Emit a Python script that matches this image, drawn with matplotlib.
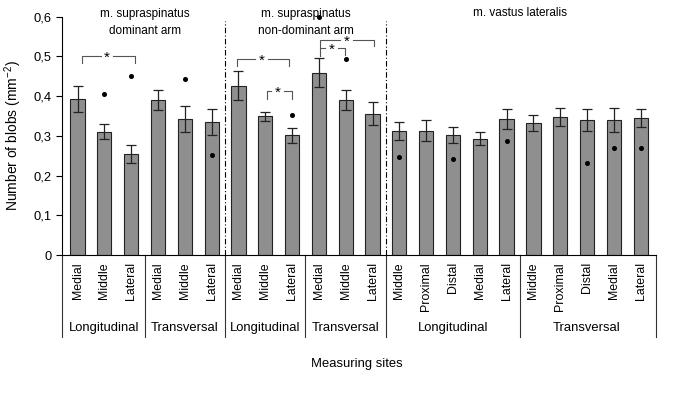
import numpy as np
import matplotlib
matplotlib.use("Agg")
import matplotlib.pyplot as plt
from matplotlib.transforms import blended_transform_factory

plt.rcParams['font.family'] = ['Liberation Sans', 'DejaVu Sans']
plt.rcParams['mathtext.fontset'] = 'custom'
plt.rcParams['mathtext.rm'] = 'Liberation Sans'

# bar data, left to right
site_labels = ['Medial', 'Middle', 'Lateral'] * 4 + ['Middle', 'Proximal', 'Distal', 'Medial', 'Lateral'] * 2
means = [0.393, 0.311, 0.255, 0.391, 0.343, 0.335,
         0.426, 0.349, 0.301, 0.459, 0.391, 0.356,
         0.313, 0.313, 0.302, 0.293, 0.342,
         0.333, 0.348, 0.340, 0.340, 0.345]
errors = [0.032, 0.018, 0.022, 0.025, 0.033, 0.033,
          0.037, 0.011, 0.018, 0.036, 0.025, 0.029,
          0.023, 0.027, 0.020, 0.017, 0.025,
          0.020, 0.023, 0.027, 0.031, 0.023]
dots = [np.nan, 0.405, 0.451, np.nan, 0.443, 0.251,
        np.nan, np.nan, 0.352, 0.598, 0.493, np.nan,
        0.247, np.nan, 0.241, np.nan, 0.286,
        np.nan, np.nan, 0.231, 0.269, 0.270]

# direction groups (first bar, last bar)
groups = ['Longitudinal', 'Transversal', 'Longitudinal', 'Transversal', 'Longitudinal', 'Transversal']
group_spans = [(0, 2), (3, 5), (6, 8), (9, 11), (12, 16), (17, 21)]

muscles = ['m. supraspinatus\ndominant arm', 'm. supraspinatus\nnon-dominant arm', 'm. vastus lateralis']
muscle_spans = [(0, 5), (6, 11), (12, 21)]

# significance brackets: (x left, x right, y, left drop, right drop, star x)
brackets = [(0.15, 2.15, 0.500, 0.017, 0.017, 1.1),
            (5.94, 7.89, 0.494, 0.017, 0.017, 6.85),
            (7.06, 7.99, 0.412, 0.019, 0.019, 7.47),
            (9.05, 9.98, 0.520, 0.019, 0.016, 9.47),
            (9.05, 11.07, 0.541, 0.021, 0.016, 10.02)]

fig = plt.figure(figsize=(6.85, 4.05), dpi=100)
ax = fig.add_axes([0.0905, 0.370, 0.8675, 0.589])

x = np.arange(len(means))
ax.bar(x, means, width=0.53, color='#8f8f8f', edgecolor='#222222', linewidth=0.8, zorder=2)
ax.errorbar(x, means, yerr=errors, fmt='none', ecolor='#222222', elinewidth=0.9,
            capsize=3.3, capthick=0.9, zorder=3)
ax.plot(x, dots, 'o', color='black', markersize=2.6, zorder=4, clip_on=False)

ax.set_xlim(-0.58, 21.58)
ax.set_ylim(0, 0.6)
ax.set_yticks(np.arange(0, 0.61, 0.1))
ax.set_yticklabels(['0', '0,1', '0,2', '0,3', '0,4', '0,5', '0,6'])
ax.set_xticks(x)
ax.set_xticklabels(site_labels, rotation=90, va='top')
ax.tick_params(axis='x', length=0, pad=5, labelsize=8.9)
ax.tick_params(axis='y', direction='out', length=4, width=0.8, labelsize=9.3)
for s in ['top', 'right']:
    ax.spines[s].set_visible(False)
ax.spines['left'].set_linewidth(0.8)
ax.spines['bottom'].set_linewidth(0.8)

ax.set_ylabel('Number of blobs (mm$^{-2}$)', fontsize=10, labelpad=7)

# group separators and labels under the axis
trans = blended_transform_factory(ax.transData, ax.transAxes)
edges = [-0.58, 2.5, 5.5, 8.5, 11.5, 16.5, 21.58]
for e in edges:
    ax.plot([e, e], [0, -0.344], transform=trans, color='#333333', lw=0.8, clip_on=False)
for name, (a, b) in zip(groups, group_spans):
    ax.text((a + b) / 2, -0.306, name, transform=trans, ha='center', va='center', fontsize=9.4)

ax.text(10.4, -0.455, 'Measuring sites', transform=trans, ha='center', va='center', fontsize=9.4)

# dash-dot separators between muscles
for e in [5.5, 11.5]:
    ax.plot([e, e], [0, 0.588], color='black', lw=0.8, linestyle=(0, (5, 2, 1, 2)), zorder=1)

for name, (a, b) in zip(muscles, muscle_spans):
    yy = 0.585 if '\n' in name else 0.609
    ax.text((a + b) / 2, yy, name, ha='center', va='center', fontsize=8.5, linespacing=1.5)

# brackets with a gap left open around the star
gap = 0.24
for xl, xr, yb, dl, dr, xs in brackets:
    ax.plot([xl, xl, xs - gap], [yb - dl, yb, yb], color='#555555', lw=0.8, zorder=3)
    ax.plot([xs + gap, xr, xr], [yb, yb, yb - dr], color='#555555', lw=0.8, zorder=3)
    ax.text(xs, yb - 0.004, '*', ha='center', va='center', fontsize=11, zorder=4)

fig.savefig('out.png', dpi=100)
